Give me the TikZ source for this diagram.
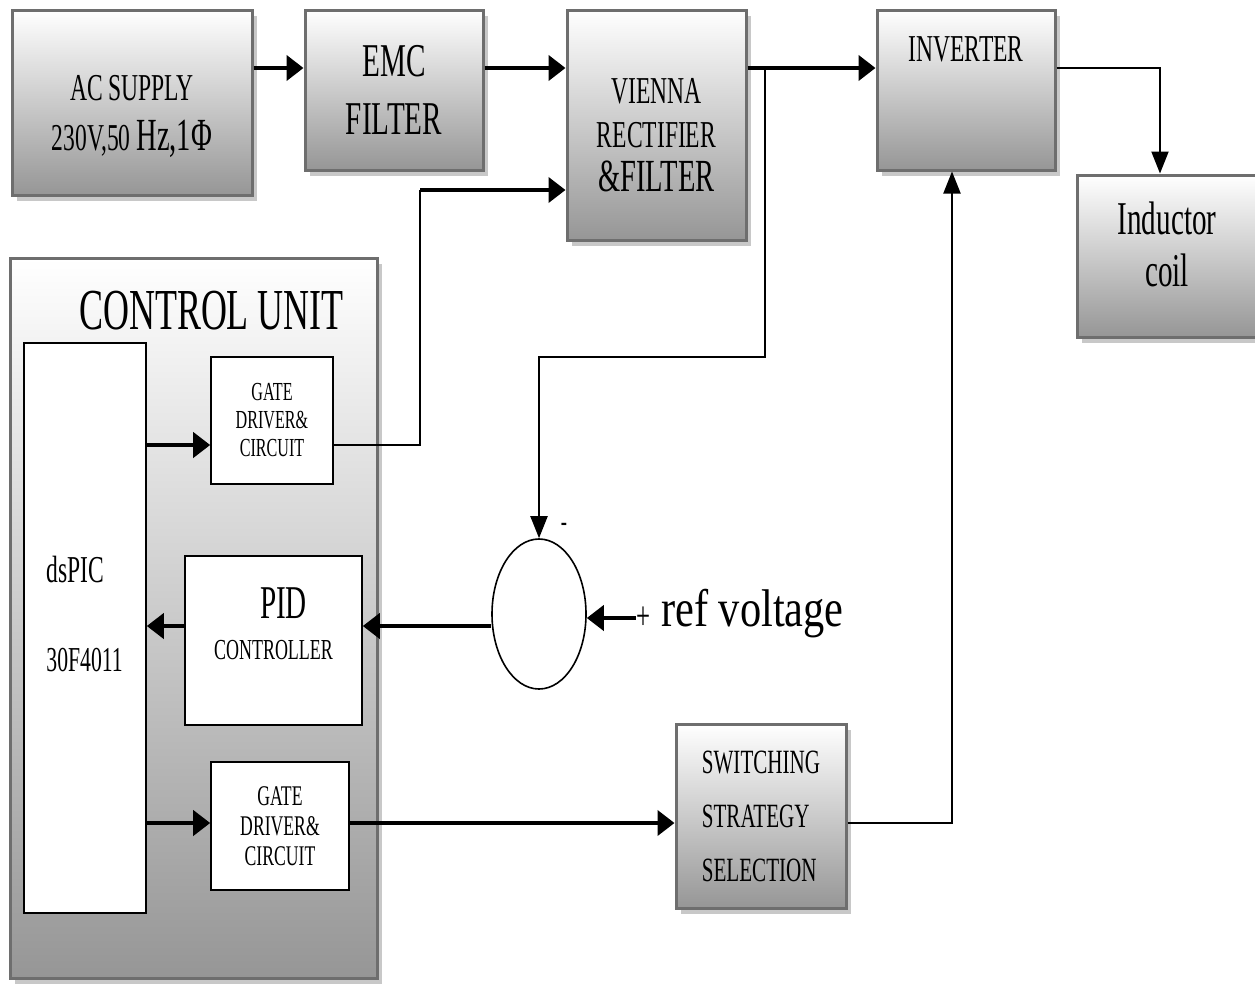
\documentclass[tikz,border=0pt]{standalone}
\usepackage{fontspec}
\setmainfont{Liberation Serif}[FakeStretch=0.62]
\newfontfamily\reffont{Liberation Serif}[FakeStretch=0.8]
\usetikzlibrary{arrows.meta,positioning,shapes.geometric,shadows,calc}
\definecolor{frameGray}{RGB}{110,110,110}
\definecolor{shadeGray}{RGB}{150,150,150}
\definecolor{shadowGray}{RGB}{200,200,200}
\newcommand\fsz[2]{\fontsize{#1}{#2}\selectfont}

\begin{document}
\begin{tikzpicture}[x=1pt,y=-1pt,
  block/.style  = {rectangle, draw=frameGray, line width=3pt, top color=white, bottom color=shadeGray,
                   drop shadow={shadow xshift=5pt, shadow yshift=-6pt, fill=shadowGray, opacity=1},
                   align=center, inner sep=0pt},
  inner/.style  = {rectangle, draw=black, line width=1.6pt, fill=white, align=center, inner sep=0pt},
  power/.style  = {-{Triangle[length=17pt,width=25pt]}, line width=4.5pt},
  signal/.style = {-{Triangle[length=22pt,width=17pt]}, line width=2pt},
  sumjn/.style  = {ellipse, draw=black, line width=1.6pt, minimum width=94pt, minimum height=150pt},
]
\useasboundingbox (0,0) rectangle (1255,983);

% ── Power path ───────────────────────────────────────────────
\node[block, minimum width=240pt, minimum height=185pt,
      label={[anchor=center, yshift=-14pt, inner sep=0pt, align=center, font=\fsz{38}{50}]center:AC SUPPLY\\230V,50 {\fsz{46}{50}Hz,1Φ}}] (ac) at (132,102.5) {};
\node[block, minimum width=178pt, minimum height=160pt, font=\fsz{47}{58}] (emc) at (394,90)
  {EMC\\FILTER};
\node[block, minimum width=179pt, minimum height=230pt,
      label={[anchor=center, yshift=-10pt, inner sep=0pt, align=center, font=\fsz{38}{44}]center:VIENNA\\RECTIFIER\\{\fsz{46}{50}\&FILTER}}] (vienna) at (656.5,125) {};
\node[block, minimum width=178pt, minimum height=160pt,
      label={[anchor=north, yshift=-28pt, inner sep=0pt, font=\fsz{38}{44}]north:INVERTER}] (inv) at (966,90) {};
\node[block, minimum width=180pt, minimum height=162pt,
      label={[anchor=center, yshift=12pt, inner sep=0pt, align=center, font=\fsz{47}{52}]center:Inductor\\coil}] (coil) at (1167,256) {};

% ── Control unit ─────────────────────────────────────────────
\node[block, minimum width=367pt, minimum height=720pt,
      label={[anchor=north, yshift=-34pt, xshift=18pt, inner sep=0pt, font=\fsz{58}{60}]north:CONTROL UNIT}] (cu) at (193.5,618) {};
\node[inner, minimum width=122pt, minimum height=570pt,
      label={[anchor=west, xshift=23pt, yshift=14pt, inner sep=0pt, align=left, font=\fsz{35}{89}]west:{\fsz{38}{89}dsPIC}\\30F4011}] (dspic) at (85,628) {};
\node[inner, minimum width=122pt, minimum height=127pt, font=\fsz{26}{28}] (gd1) at (272,420.5)
  {GATE\\DRIVER\&\\CIRCUIT};
\node[inner, minimum width=177pt, minimum height=169pt,
      label={[anchor=center, yshift=17pt, inner sep=0pt, align=center, font=\fsz{29}{41}]center:{\fsz{47}{41}\hspace{20pt}PID}\\CONTROLLER}] (pid) at (273.5,640.5) {};
\node[inner, minimum width=138pt, minimum height=128pt, font=\fsz{28.5}{30}] (gd2) at (280,826)
  {GATE\\DRIVER\&\\CIRCUIT};

% ── Feedback and strategy ────────────────────────────────────
\node[sumjn] (sum) at (539,614) {};
\node[inner sep=0pt, font=\fsz{30}{30}] (minus) at (564,527) {-};
\node[inner sep=0pt, font=\fsz{40}{40}] (plus) at (643,618) {+};
\node[inner sep=0pt, anchor=base west, font=\reffont\fsz{53}{60}] (refv) at (661,626) {ref voltage};
\node[block, minimum width=170pt, minimum height=184pt, align=left, font=\fsz{34}{54}] (sw) at (761,816)
  {SWITCHING\\STRATEGY\\SELECTION};

% ── Connectors ───────────────────────────────────────────────
\coordinate (top)  at (0,68);
\coordinate (tap)  at (765,68);
\coordinate (fb)   at (765,357);
\coordinate (row1) at (0,445);
\coordinate (gv)   at (420,190);
\coordinate (row2) at (0,626);
\coordinate (row3) at (0,823);

\draw[power] (ac.east |- top) -- (emc.west |- top);
\draw[power] (emc.east |- top) -- (vienna.west |- top);
\draw[power] (vienna.east |- top) -- (inv.west |- top);
\draw[signal] (inv.east |- top) -| ([xshift=-7pt]coil.north);
\draw[signal] (tap) -- (fb) -| (sum.north);

\draw[power, line width=4pt] (dspic.east |- row1) -- (gd1.west |- row1);
\draw[line width=2pt] (gd1.east |- row1) -| (gv);
\draw[power, line width=4pt] (gv) -- (vienna.west |- gv);

\draw[power, line width=4pt] (sum.west |- row2) -- (pid.east |- row2);
\draw[power, line width=4pt] (pid.west |- row2) -- (dspic.east |- row2);
\draw[power, line width=4pt] (plus.west) -- (sum.east |- plus.west);

\draw[power, line width=4pt] (dspic.east |- row3) -- (gd2.west |- row3);
\draw[power, line width=4pt] (gd2.east |- row3) -- (sw.west |- row3);
\draw[signal] (sw.east |- row3) -| ([xshift=-14pt]inv.south);

\end{tikzpicture}
\end{document}
